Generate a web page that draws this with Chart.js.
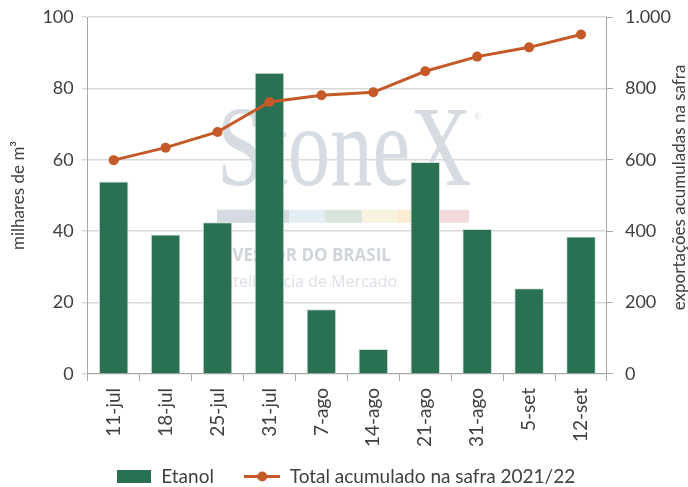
<!DOCTYPE html>
<html>
<head>
<meta charset="utf-8">
<script src="https://cdn.jsdelivr.net/npm/chart.js@4/dist/chart.umd.min.js"></script>
<style>
  html, body { margin: 0; padding: 0; background: #fff; }
  #wrap { width: 688px; height: 487px; }
</style>
</head>
<body>
<div id="wrap"><canvas id="chart" width="688" height="487"></canvas></div>
<script>
// dados
var semanas = ['11-jul', '18-jul', '25-jul', '31-jul', '7-ago', '14-ago', '21-ago', '31-ago', '5-set', '12-set'];
var etanol = [53.9, 39.1, 42.5, 84.4, 18.1, 7.0, 59.4, 40.6, 24.0, 38.5];
var totalSafra = [599, 634, 678, 762, 781, 789, 848, 889, 915, 951];
var ticksEsq = [0, 20, 40, 60, 80, 100];
var ticksDir = [0, 200, 400, 600, 800, 1000];

var verde = '#2a7052';
var laranja = '#c55a28';
var cinzaTexto = '#404040';
var fonte = "Lato, 'Noto Sans', sans-serif";

function formatoBR(v) {
  return String(v).replace(/\B(?=(\d{3})+(?!\d))/g, '.');
}

// icones da legenda
function iconeBarra() {
  var c = document.createElement('canvas');
  c.width = 34; c.height = 13;
  var ctx = c.getContext('2d');
  ctx.fillStyle = verde;
  ctx.fillRect(0, 0, 34, 13);
  return c;
}
function iconeLinha() {
  var c = document.createElement('canvas');
  c.width = 36; c.height = 13;
  var ctx = c.getContext('2d');
  ctx.strokeStyle = laranja;
  ctx.lineWidth = 3;
  ctx.beginPath();
  ctx.moveTo(0, 6.5); ctx.lineTo(36, 6.5);
  ctx.stroke();
  ctx.fillStyle = laranja;
  ctx.beginPath();
  ctx.arc(18, 6.5, 5, 0, Math.PI * 2);
  ctx.fill();
  return c;
}

// marca d'agua e titulo do eixo direito
var extras = {
  id: 'extras',
  beforeDatasetsDraw: function (chart) {
    var a = chart.chartArea;
    var ctx = chart.ctx;
    var w = a.right - a.left, h = a.bottom - a.top;
    var x0 = a.left + w * 0.249;
    ctx.save();
    // StoneX
    ctx.fillStyle = '#d6dce2';
    ctx.font = "115px 'Liberation Serif', 'DejaVu Serif', serif";
    ctx.textBaseline = 'alphabetic';
    var tw = ctx.measureText('StoneX').width;
    var alvo = w * 0.49;
    ctx.translate(x0, a.top + h * 0.47);
    ctx.scale(alvo / tw, 1);
    ctx.fillText('StoneX', 0, 0);
    ctx.restore();
    ctx.save();
    ctx.fillStyle = '#d6dce2';
    ctx.font = "10px 'Liberation Serif', serif";
    ctx.fillText('®', x0 + alvo + 2, a.top + h * 0.28);
    // faixa colorida
    var faixa = [['#d5dae2', 72], ['#e5edf5', 36], ['#d8e4dc', 37], ['#f8f3df', 36], ['#fcebd3', 36], ['#f2dadb', 35]];
    var fx = x0, fy = a.top + h * 0.54;
    faixa.forEach(function (f) {
      ctx.fillStyle = f[0];
      ctx.fillRect(fx, fy, f[1], 13);
      fx += f[1];
    });
    ctx.fillStyle = '#d0d5dc';
    ctx.font = "bold 17px 'Open Sans', sans-serif";
    ctx.fillText('INVESTOR DO BRASIL', x0 - 4, a.top + h * 0.67);
    ctx.fillStyle = '#dde1e6';
    ctx.font = "16px 'Open Sans', sans-serif";
    ctx.fillText('Inteligência de Mercado', x0 + 2, a.top + h * 0.745);
    ctx.restore();
  },
  afterDraw: function (chart) {
    var a = chart.chartArea;
    var ctx = chart.ctx;
    ctx.save();
    ctx.fillStyle = cinzaTexto;
    ctx.font = '17px ' + fonte;
    ctx.textAlign = 'center';
    ctx.textBaseline = 'middle';
    ctx.translate(chart.width - 8, (a.top + a.bottom) / 2 - 8);
    ctx.rotate(-Math.PI / 2);
    ctx.fillText('exportações acumuladas na safra', 0, 0);
    ctx.restore();
  }
};

function semFolgaTopo(axis) {
  axis.paddingTop = 0;
}

var canvas = document.querySelector('#chart');
var config = {
  type: 'bar',
  data: {
    labels: semanas,
    datasets: [
      {
        type: 'line',
        label: 'Total acumulado na safra 2021/22',
        data: totalSafra,
        yAxisID: 'y1',
        borderColor: laranja,
        backgroundColor: laranja,
        borderWidth: 3,
        pointRadius: 5,
        pointBackgroundColor: laranja,
        pointBorderWidth: 0,
        tension: 0,
        order: 1
      },
      {
        label: 'Etanol',
        data: etanol,
        yAxisID: 'y',
        backgroundColor: verde,
        borderColor: '#cfe0d6',
        borderWidth: 1,
        barPercentage: 0.57,
        categoryPercentage: 1,
        order: 2
      }
    ]
  },
  options: {
    responsive: false,
    animation: false,
    layout: { padding: { left: 8, right: 5, top: 17, bottom: -9 } },
    plugins: {
      tooltip: { enabled: false },
      legend: {
        position: 'bottom',
        labels: {
          usePointStyle: true,
          color: cinzaTexto,
          font: { family: fonte, size: 19 },
          padding: 6,
          generateLabels: function (chart) {
            return [
              { text: 'Etanol     ', pointStyle: iconeBarra(), fillStyle: verde, strokeStyle: verde, lineWidth: 0, hidden: false, datasetIndex: 1, fontColor: cinzaTexto },
              { text: 'Total acumulado na safra 2021/22', pointStyle: iconeLinha(), fillStyle: laranja, strokeStyle: laranja, lineWidth: 0, hidden: false, datasetIndex: 0, fontColor: cinzaTexto }
            ];
          },
          pointStyleWidth: 36,
          boxHeight: 13
        }
      }
    },
    scales: {
      x: {
        offset: true,
        afterFit: function (axis) { axis.height += 7; },
        grid: { display: true, drawOnChartArea: false, drawTicks: true, tickLength: 7, offset: true, color: '#a6a6a6' },
        border: { color: '#a6a6a6' },
        ticks: {
          color: cinzaTexto,
          font: { family: fonte, size: 19 },
          maxRotation: 90,
          minRotation: 90,
          padding: 7
        }
      },
      y: {
        position: 'left',
        min: 0,
        max: 100,
        afterBuildTicks: function (axis) {
          axis.ticks = ticksEsq.map(function (v) { return { value: v }; });
        },
        afterFit: semFolgaTopo,
        grid: { color: '#d9d9d9', tickLength: 6, lineWidth: 1.5 },
        border: { color: '#a6a6a6' },
        ticks: { color: cinzaTexto, font: { family: fonte, size: 18 }, padding: 8 },
        title: {
          display: true,
          text: 'milhares de m³',
          color: cinzaTexto,
          font: { family: fonte, size: 17 },
          padding: { top: 0, bottom: 6 }
        }
      },
      y1: {
        position: 'right',
        min: 0,
        max: 1000,
        afterBuildTicks: function (axis) {
          axis.ticks = ticksDir.map(function (v) { return { value: v }; });
        },
        afterFit: semFolgaTopo,
        grid: { drawOnChartArea: false, color: '#a6a6a6', tickLength: 6 },
        border: { color: '#a6a6a6' },
        ticks: {
          color: cinzaTexto,
          font: { family: fonte, size: 18 },
          padding: 12,
          callback: function (v) { return formatoBR(v); }
        }
      }
    }
  },
  plugins: [extras]
};

var grafico = new Chart(canvas.getContext('2d'), config);
</script>
</body>
</html>
